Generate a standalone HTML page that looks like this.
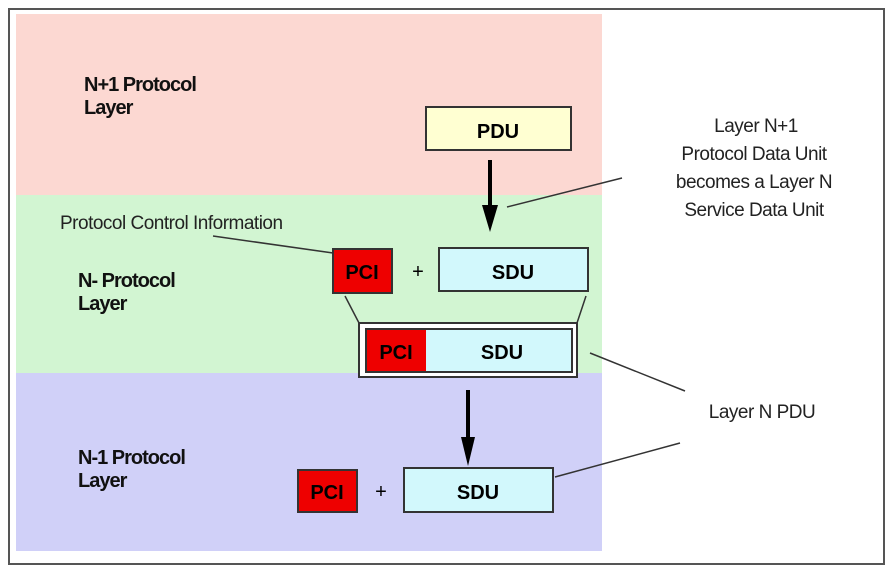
<!DOCTYPE html>
<html><head><style>
body{margin:0;background:#fff;width:894px;height:572px;overflow:hidden}
</style></head><body>
<svg width="894" height="572" xmlns="http://www.w3.org/2000/svg" font-family="Liberation Sans, sans-serif">
<rect x="0" y="0" width="894" height="572" fill="#fff"/>
<rect x="9" y="9" width="875" height="555" fill="#fff" stroke="#555" stroke-width="2"/>
<rect x="16" y="14" width="586" height="181" fill="#fcd8d2"/>
<rect x="16" y="195" width="586" height="178" fill="#d2f5d2"/>
<rect x="16" y="373" width="586" height="178" fill="#d0d0f8"/>
<g font-weight="bold" font-size="20" fill="#111" letter-spacing="-1">
<text x="84" y="91">N+1 Protocol</text><text x="84" y="114">Layer</text>
<text x="78" y="287">N- Protocol</text><text x="78" y="310">Layer</text>
<text x="78" y="464">N-1 Protocol</text><text x="78" y="487">Layer</text>
</g>
<rect x="426" y="107" width="145" height="43" fill="#ffffd2" stroke="#333" stroke-width="2"/>
<text x="498" y="138" text-anchor="middle" font-size="20" font-weight="bold">PDU</text>
<line x1="490" y1="160" x2="490" y2="210" stroke="#000" stroke-width="4"/>
<polygon points="482,205 498,205 490,232" fill="#000"/>
<rect x="333" y="249" width="59" height="44" fill="#ee0000" stroke="#333" stroke-width="2"/>
<text x="362" y="279" text-anchor="middle" font-size="20" font-weight="bold">PCI</text>
<text x="418" y="278" text-anchor="middle" font-size="20">+</text>
<rect x="439" y="248" width="149" height="43" fill="#d2f8fc" stroke="#333" stroke-width="2"/>
<text x="513" y="279" text-anchor="middle" font-size="20" font-weight="bold">SDU</text>
<line x1="345" y1="296" x2="359" y2="323" stroke="#333" stroke-width="1.5"/>
<line x1="586" y1="296" x2="577" y2="323" stroke="#333" stroke-width="1.5"/>
<rect x="359" y="323" width="218" height="54" fill="#fff" stroke="#333" stroke-width="2"/>
<rect x="366" y="329" width="206" height="43" fill="#d2f8fc" stroke="#333" stroke-width="2"/>
<rect x="367" y="330" width="59" height="41" fill="#ee0000"/>
<text x="396" y="359" text-anchor="middle" font-size="20" font-weight="bold">PCI</text>
<text x="502" y="359" text-anchor="middle" font-size="20" font-weight="bold">SDU</text>
<line x1="468" y1="390" x2="468" y2="440" stroke="#000" stroke-width="4"/>
<polygon points="461,437 475,437 468,466" fill="#000"/>
<rect x="298" y="470" width="59" height="42" fill="#ee0000" stroke="#333" stroke-width="2"/>
<text x="327" y="499" text-anchor="middle" font-size="20" font-weight="bold">PCI</text>
<text x="381" y="498" text-anchor="middle" font-size="20">+</text>
<rect x="404" y="468" width="149" height="44" fill="#d2f8fc" stroke="#333" stroke-width="2"/>
<text x="478" y="499" text-anchor="middle" font-size="20" font-weight="bold">SDU</text>
<g font-size="19" fill="#222" text-anchor="middle" letter-spacing="-0.5">
<text x="756" y="132">Layer N+1</text>
<text x="754" y="160">Protocol Data Unit</text>
<text x="754" y="188">becomes a Layer N</text>
<text x="754" y="216">Service Data Unit</text>
<text x="762" y="418">Layer N PDU</text>
</g>
<text x="60" y="229" font-size="19" fill="#222" letter-spacing="-0.5">Protocol Control Information</text>
<g stroke="#333" stroke-width="1.5">
<line x1="622" y1="178" x2="507" y2="207"/>
<line x1="213" y1="236" x2="333" y2="253"/>
<line x1="590" y1="353" x2="685" y2="391"/>
<line x1="555" y1="477" x2="680" y2="443"/>
</g>
</svg>
</body></html>
